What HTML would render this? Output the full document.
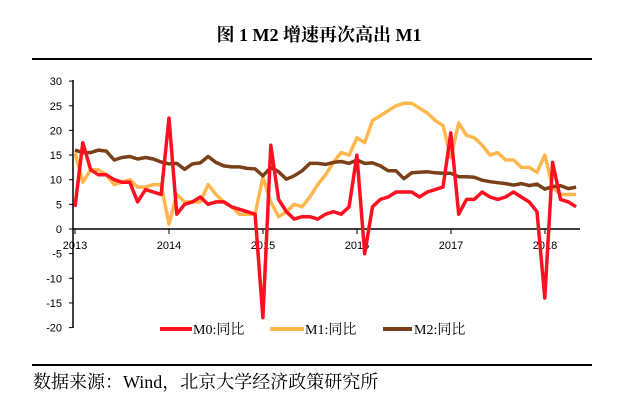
<!DOCTYPE html>
<html><head><meta charset="utf-8"><style>
body{margin:0;background:#fff;width:638px;height:412px;overflow:hidden}
svg{display:block}
</style></head><body>
<svg id="s" width="638" height="412" xmlns="http://www.w3.org/2000/svg">
<text x="319" y="41" text-anchor="middle" font-family="Liberation Serif,'Noto Serif CJK SC',serif" font-size="18" font-weight="bold">图 1 M2 增速再次高出 M1</text>
<line x1="32" y1="59" x2="592" y2="59" stroke="#000" stroke-width="2"/>
<line x1="32" y1="365" x2="592" y2="365" stroke="#000" stroke-width="2"/>
<text x="33" y="388" font-family="Liberation Serif,'Noto Serif CJK SC',serif" font-size="18">数据来源：Wind，北京大学经济政策研究所</text>
<g id="ax" font-family="Liberation Sans,sans-serif" font-size="11"></g>
<g id="ln"></g>
<g font-family="Liberation Serif,'Noto Serif CJK SC',serif" font-size="14">
<line x1="160" y1="329" x2="192" y2="329" stroke="#ff1020" stroke-width="4"/><text x="193" y="334">M0:同比</text>
<line x1="270" y1="329" x2="304" y2="329" stroke="#ffb74d" stroke-width="4"/><text x="305" y="334">M1:同比</text>
<line x1="383" y1="329" x2="412" y2="329" stroke="#7a4019" stroke-width="4"/><text x="414" y="334">M2:同比</text>
</g>
</svg>
<script>
var NS="http://www.w3.org/2000/svg";
function Y(v){return 229-v*4.93}
function X(i){return 75+7.83*i}
var ax=document.getElementById('ax'),h='';
h+='<line x1="73" y1="80" x2="73" y2="328" stroke="#000" stroke-width="1.5"/>';
h+='<line x1="73" y1="229" x2="580" y2="229" stroke="#000" stroke-width="1.5"/>';
for(var v=-20;v<=30;v+=5){h+='<line x1="69" y1="'+Y(v)+'" x2="73" y2="'+Y(v)+'" stroke="#000"/>';h+='<text x="62" y="'+(Y(v)+4)+'" text-anchor="end">'+v+'</text>';}
for(var k=0;k<6;k++){var x=75+94*k;h+='<line x1="'+x+'" y1="229" x2="'+x+'" y2="234" stroke="#000"/><text x="'+x+'" y="249" text-anchor="middle">'+(2013+k)+'</text>';}
ax.innerHTML=h;
var m0=[4.5,17.5,12,11,11,10,9.5,9.5,5.5,8,7.5,7,22.5,3,5,5.5,6.5,5,5.5,5.5,4.5,4,3.5,3,-18,17,6,3.5,2,2.5,2.5,2,3,3.5,3,4.5,15,-5,4.5,6,6.5,7.5,7.5,7.5,6.5,7.5,8,8.5,19.5,3,6,6,7.5,6.5,6,6.5,7.5,6.5,5.5,3.5,-14,13.5,6,5.5,4.5];
var m1=[15.5,9.5,12,12,11,9,9.5,10,8.5,8.5,9,9,1,7,5.5,5.5,5.5,9,7,5.5,4.5,3,3,3,10.5,5.5,2.5,3.5,5,4.5,6.5,9,11,13.5,15.5,15,18.5,17.5,22,23,24,25,25.5,25.5,24.5,23.5,22,21,14.5,21.5,19,18.5,17,15,15.5,14,14,12.5,12.5,11.5,15,8.5,7,7,7];
var m2=[16,15.5,15.5,16,15.8,14,14.5,14.7,14.2,14.5,14.2,13.6,13.2,13.3,12.1,13.2,13.4,14.7,13.5,12.8,12.6,12.6,12.3,12.2,10.8,12.5,11.6,10.1,10.8,11.8,13.3,13.3,13.1,13.5,13.7,13.3,14,13.3,13.4,12.8,11.8,11.8,10.2,11.4,11.5,11.6,11.4,11.3,11.3,10.6,10.6,10.5,9.9,9.6,9.4,9.2,8.9,9.2,8.8,9.1,8.1,8.6,8.8,8.2,8.5];
function pl(d,c){return '<polyline fill="none" stroke="'+c+'" stroke-width="3.5" stroke-linejoin="round" points="'+d.map(function(v,i){return X(i).toFixed(1)+','+Y(v).toFixed(1)}).join(' ')+'"/>';}
document.getElementById('ln').innerHTML=pl(m1,'#ffb74d')+pl(m2,'#7a4019')+pl(m0,'#ff1020');
</script>
</body></html>
